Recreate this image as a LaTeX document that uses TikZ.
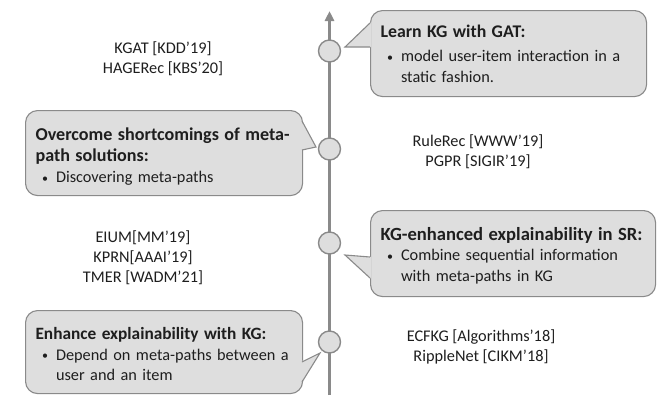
\documentclass[tikz,border=0pt]{standalone}
\usepackage{fontspec}
\setmainfont{Carlito}
\usetikzlibrary{arrows.meta}
\definecolor{boxfill}{HTML}{DEDEDE}
\definecolor{edge}{HTML}{8A8A8A}
\definecolor{ink}{HTML}{1E1E1E}
\tikzset{
  callbox/.style={draw=edge, fill=boxfill, line width=1.1pt, rounded corners=12pt,
    anchor=north west, inner xsep=10pt, inner ysep=0pt, align=left,
    font=\fontsize{16.3}{20.5}\selectfont, text=ink},
  ptrfill/.style={fill=boxfill},
  ptrline/.style={draw=edge, line width=1.1pt, line join=miter},
  pubs/.style={align=center, font=\fontsize{16.3}{20}\selectfont, text=ink, inner sep=0pt},
  dot/.style={circle, draw=edge, fill=boxfill, line width=1.4pt, minimum size=22pt, inner sep=0pt},
  axis/.style={draw=edge, line width=3pt, -{Triangle[width=9pt,length=10pt]}},
}
\newcommand{\hd}[2]{{\fontsize{#1}{20.5}\selectfont\bfseries #2}}
\newcommand{\bul}{\hspace*{6.5pt}\makebox[14pt][l]{\raisebox{0.5pt}{\fontsize{12}{12}\selectfont•}}}
\newcommand{\cont}{\hspace*{20.5pt}}
\newcommand{\lift}[1]{\rule{0pt}{#1}}
\begin{document}
\begin{tikzpicture}[x=1pt,y=-1pt]
\useasboundingbox (0,0) rectangle (667,408);
% timeline
\coordinate (bot) at (329.5,395);
\coordinate (top) at (329.5,11);
\draw[axis] (bot) -- (top);
\node[dot] (c1) at (329.5,51) {};
\node[dot] (c2) at (329.5,149) {};
\node[dot] (c3) at (329.5,243) {};
\node[dot] (c4) at (329.5,342) {};

% box 1
\node[callbox, text width=256pt, minimum height=86pt] (b1) at (370,10) {%
\hd{17.8}{Learn KG with GAT:}\\[4pt]
\bul model user-item interaction in a\\
\cont static fashion.};
\coordinate (t1) at (345,47);
\fill[ptrfill] (t1) -- (371,22.3) -- (371,47) -- cycle;
\draw[ptrline] (370,23) -- (t1) -- (370,47);

% box 2
\node[callbox, text width=257pt, minimum height=85pt] (b2) at (25,110) {%
\lift{20pt}\hd{18.1}{Overcome shortcomings of meta-}\\
\hd{18.1}{path solutions:}\\[1pt]
\bul Discovering meta-paths};
\coordinate (t2) at (316,147);
\fill[ptrfill] (t2) -- (301,120.5) -- (301,150) -- cycle;
\draw[ptrline] (302,121) -- (t2) -- (302,150);

% box 3
\node[callbox, text width=265pt, minimum height=86pt] (b3) at (370,210) {%
\lift{17pt}\hd{18.6}{KG-enhanced explainability in SR:}\\
\bul Combine sequential information\\
\cont with meta-paths in KG};
\coordinate (t3) at (345,255);
\fill[ptrfill] (t3) -- (371,257) -- (371,278.6) -- cycle;
\draw[ptrline] (370,257) -- (t3) -- (370,278);

% box 4
\node[callbox, text width=257pt, minimum height=83pt] (b4) at (25,310) {%
\lift{17pt}\hd{17.3}{Enhance explainability with KG:}\\
\bul Depend on meta-paths between a\\
\cont user and an item};
\coordinate (t4) at (320,353);
\fill[ptrfill] (t4) -- (301,361.4) -- (301,382.4) -- cycle;
\draw[ptrline] (302,362) -- (t4) -- (302,382);

% publications
\node[pubs] (p1) at (163,59) {KGAT [KDD’19]\\HAGERec [KBS'20]};
\node[pubs] (p2) at (478,152) {RuleRec [WWW’19]\\PGPR [SIGIR’19]};
\node[pubs] (p3) at (143,258) {EIUM[MM’19]\\KPRN[AAAI’19]\\TMER [WADM’21]};
\node[pubs] (p4) at (481,346.5) {ECFKG [Algorithms'18]\\RippleNet [CIKM’18]};
\end{tikzpicture}
\end{document}
